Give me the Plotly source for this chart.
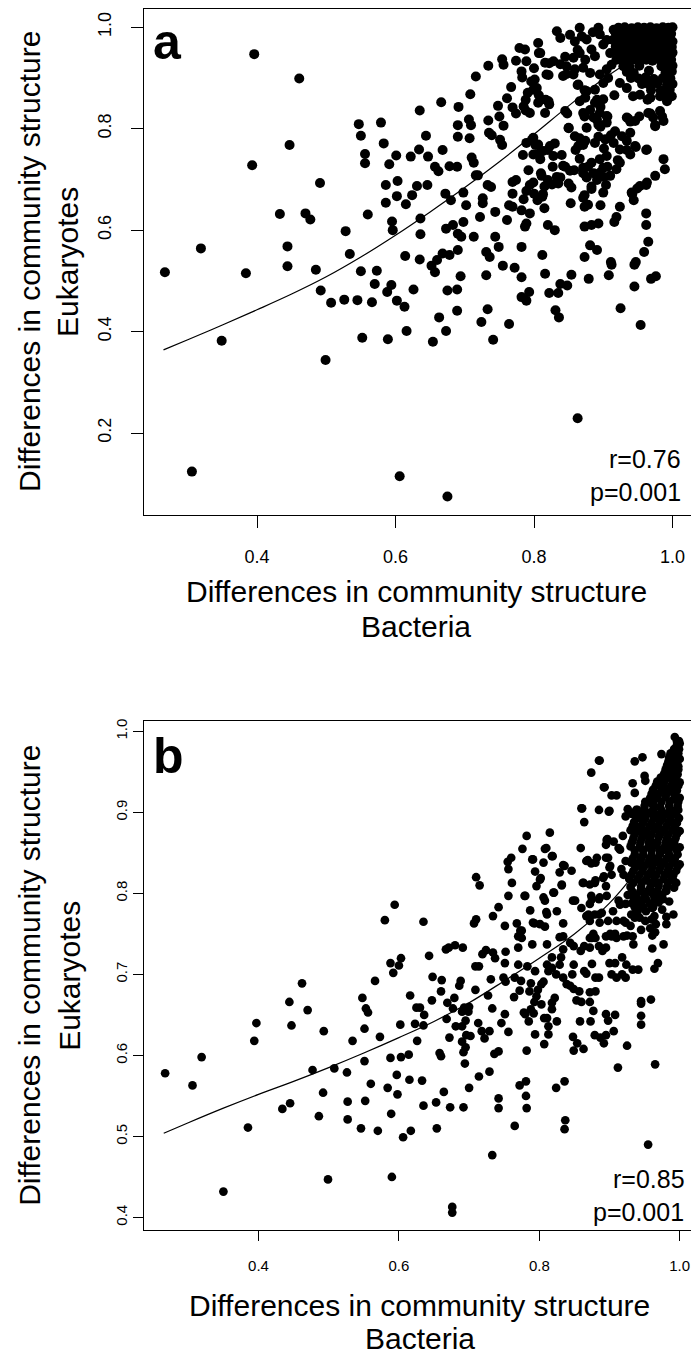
import plotly.graph_objects as go

FONT = "Liberation Sans, Arial, Helvetica, sans-serif"

# ---------------- Panel a : (Bacteria dissimilarity, Eukaryote dissimilarity) ----------------
a_low = [(0.267,0.517),(0.384,0.515),(0.444,0.529),(0.485,0.522),(0.492,0.481),(0.507,0.457),(0.526,0.463),
    (0.545,0.462),(0.566,0.458),(0.550,0.519),(0.573,0.520),(0.570,0.494),(0.588,0.478),(0.594,0.492),(0.602,0.461),
    (0.613,0.449),(0.626,0.483),(0.652,0.530),(0.657,0.517),(0.675,0.481),(0.689,0.483),(0.694,0.509),(0.689,0.441),
    (0.663,0.428),(0.673,0.401),(0.654,0.380),(0.552,0.388),(0.589,0.385),(0.616,0.401),(0.499,0.344),(0.349,0.382),
    (0.306,0.124),(0.606,0.115),(0.675,0.075),(0.863,0.229),(0.731,0.511),(0.755,0.530),(0.772,0.526),(0.782,0.507),
    (0.782,0.468),(0.789,0.461),(0.793,0.478),(0.733,0.444),(0.724,0.419),(0.741,0.384),(0.764,0.415),(0.816,0.514),
    (0.822,0.476),(0.835,0.476),(0.838,0.494),(0.848,0.491),(0.854,0.512),(0.831,0.442),(0.836,0.428),(0.879,0.504),
    (0.912,0.532),(0.908,0.511),(0.925,0.446),(0.945,0.532),(0.945,0.489),(0.954,0.413),(0.969,0.504),(0.976,0.509)]

a_upper_left = [(0.396,0.947),(0.461,0.899),(0.447,0.768),(0.393,0.728),(0.491,0.693),(0.433,0.632),(0.470,0.633),
    (0.477,0.621),(0.319,0.564),(0.444,0.568),(0.528,0.598),(0.534,0.553),(0.560,0.631),(0.547,0.809),(0.550,0.786),
    (0.579,0.812),(0.583,0.771),(0.556,0.750),(0.556,0.732),(0.601,0.747),(0.591,0.730),(0.603,0.697),(0.586,0.689),
    (0.602,0.667),(0.586,0.654),(0.615,0.651),(0.624,0.669),(0.631,0.687),(0.646,0.689),(0.622,0.745),(0.634,0.759),
    (0.647,0.745),(0.644,0.786),(0.635,0.836),(0.666,0.852),(0.691,0.843),(0.708,0.868),(0.716,0.903),(0.734,0.924),
    (0.754,0.937),(0.756,0.926),(0.774,0.934),(0.668,0.758),(0.657,0.725),(0.662,0.716),(0.678,0.726),(0.689,0.725),
    (0.690,0.807),(0.690,0.784),(0.706,0.818),(0.709,0.807),(0.707,0.781),(0.710,0.743),(0.713,0.733),(0.716,0.708),
    (0.719,0.708),(0.672,0.672),(0.680,0.659),(0.698,0.674),(0.702,0.649),(0.722,0.626),(0.726,0.653),(0.726,0.663),
    (0.733,0.689),(0.738,0.685),(0.734,0.816),(0.735,0.792),(0.739,0.787),(0.748,0.845),(0.750,0.824),(0.751,0.778),
    (0.754,0.768),(0.756,0.806),(0.761,0.860),(0.767,0.882),(0.769,0.842),(0.774,0.830),(0.769,0.695),(0.774,0.699),
    (0.769,0.672),(0.764,0.649),(0.769,0.646),(0.744,0.636),(0.744,0.587),(0.749,0.567),(0.761,0.620),(0.683,0.610),
    (0.690,0.593),(0.698,0.616),(0.673,0.603),(0.695,0.587),(0.713,0.587),(0.731,0.557),(0.736,0.547),(0.690,0.561),
    (0.678,0.551),(0.668,0.554),(0.660,0.541),(0.636,0.623),(0.636,0.592),(0.595,0.617),(0.596,0.600),(0.614,0.549),
    (0.635,0.542)]

a_upper_mid = [(0.782,0.639),(0.794,0.633),(0.789,0.613),(0.815,0.643),(0.820,0.610),(0.830,0.600),(0.853,0.653),
    (0.873,0.646),(0.878,0.650),(0.896,0.649),(0.873,0.607),(0.883,0.610),(0.893,0.613),(0.919,0.626),(0.924,0.646),
    (0.916,0.616),(0.962,0.633),(0.962,0.610),(0.965,0.577),(0.959,0.557),(0.881,0.570),(0.891,0.561),(0.873,0.547),
    (0.911,0.537),(0.947,0.537),(0.782,0.567),(0.787,0.607),(0.812,0.551)]

a_upper_right = [(0.833,0.992),(0.838,0.979),(0.866,0.999),(0.869,0.982),(0.893,0.999),(0.895,0.986),(0.915,0.995),
    (0.859,0.972),(0.876,0.976),(0.883,0.956),(0.900,0.966),(0.866,0.949),(0.857,0.940),(0.874,0.936),(0.888,0.943),
    (0.910,0.949),(0.919,0.936),(0.787,0.956),(0.806,0.969),(0.809,0.949),(0.789,0.933),(0.816,0.930),(0.828,0.933),
    (0.838,0.927),(0.847,0.923),(0.859,0.917),(0.871,0.920),(0.881,0.910),(0.895,0.907),(0.905,0.917),(0.912,0.926),
    (0.782,0.913),(0.801,0.897),(0.799,0.877),(0.818,0.907),(0.842,0.904),(0.857,0.907),(0.864,0.887),(0.876,0.874),
    (0.888,0.877),(0.900,0.890),(0.907,0.900),(0.924,0.890),(0.934,0.880),(0.943,0.864),(0.953,0.867),(0.968,0.861),
    (0.982,0.864),(0.992,0.854),(0.785,0.844),(0.806,0.851),(0.821,0.854),(0.816,0.831),(0.794,0.831),(0.866,0.854),
    (0.874,0.861),(0.888,0.851),(0.900,0.858),(0.845,0.835),(0.871,0.831),(0.886,0.822),(0.895,0.831),(0.905,0.825),
    (0.934,0.822),(0.946,0.815),(0.965,0.831),(0.972,0.822),(0.982,0.835),(0.987,0.815),(0.975,0.805),(0.850,0.802),
    (0.876,0.802),(0.893,0.808),(0.905,0.812),(0.917,0.795),(0.939,0.792),(0.927,0.785),(0.789,0.772),(0.799,0.782),
    (0.806,0.769),(0.799,0.749),(0.813,0.756),(0.823,0.766),(0.828,0.746),(0.809,0.740),(0.859,0.785),(0.864,0.766),
    (0.874,0.776),(0.888,0.772),(0.903,0.779),(0.915,0.772),(0.924,0.759),(0.934,0.776),(0.946,0.766),(0.963,0.759),
    (0.842,0.727),(0.852,0.717),(0.871,0.723),(0.883,0.733),(0.895,0.740),(0.905,0.746),(0.900,0.723),(0.924,0.733),
    (0.919,0.720),(0.939,0.749),(0.987,0.740),(0.989,0.720),(0.975,0.707),(0.963,0.694),(0.953,0.687),(0.941,0.674),
    (0.811,0.707),(0.826,0.690),(0.838,0.704),(0.854,0.684),(0.876,0.704),(0.895,0.713),(0.910,0.707),(0.883,0.681),
    (0.900,0.674),(0.871,0.664),(0.799,0.694),(0.789,0.677),(0.813,0.671),(0.785,0.661)]

# second reading of the same crowded area (x >= 0.78, y >= 0.65)
a_upper_right_2 = [(0.848,0.830),(0.850,0.801),(0.863,0.886),(0.873,0.876),(0.866,0.781),(0.871,0.768),(0.860,0.758),
    (0.866,0.741),(0.873,0.824),(0.881,0.837),(0.891,0.857),(0.896,0.843),(0.891,0.817),(0.906,0.824),(0.896,0.804),
    (0.893,0.784),(0.901,0.761),(0.911,0.787),(0.916,0.866),(0.936,0.820),(0.939,0.814),(0.952,0.824),(0.964,0.857),
    (0.968,0.830),(0.975,0.807),(0.985,0.824),(0.962,0.758),(0.947,0.764),(0.934,0.758),(0.921,0.738),(0.906,0.725),
    (0.886,0.712),(0.891,0.699),(0.876,0.705),(0.858,0.718),(0.845,0.725),(0.840,0.748),(0.830,0.771),(0.820,0.758),
    (0.807,0.751),(0.802,0.768),(0.797,0.778),(0.784,0.748),(0.792,0.718),(0.810,0.712),(0.820,0.699),(0.833,0.705),
    (0.835,0.692),(0.850,0.692),(0.871,0.712),(0.878,0.725),(0.873,0.669),(0.883,0.686),(0.901,0.705),(0.904,0.689),
    (0.794,0.689),(0.800,0.672),(0.805,0.659),(0.815,0.686),(0.812,0.666),(0.942,0.672),(0.949,0.682),(0.962,0.689),
    (0.944,0.659),(0.827,0.725),(0.845,0.942),(0.847,0.908),(0.863,0.955),(0.822,0.929),(0.821,0.906),(0.817,0.857),
    (0.822,0.848),(0.783,0.901),(0.788,0.857),(0.796,0.893),(0.800,0.919),(0.804,0.880),(0.807,0.866),(0.791,0.871),
    (0.788,0.836),(0.807,0.949),(0.779,0.959),(0.934,0.995),(0.905,0.975),(0.885,0.990),(0.852,0.985)]

a_dense = [(0.922,0.999),(0.931,1.0),(0.941,0.998),(0.950,1.0),(0.959,0.999),(0.968,1.0),(0.977,0.998),(0.986,1.0),
    (0.994,0.999),(1.0,1.0),(0.918,0.988),(0.927,0.987),(0.936,0.989),(0.945,0.986),(0.954,0.988),(0.963,0.987),
    (0.972,0.989),(0.981,0.986),(0.990,0.988),(0.998,0.987),(0.914,0.975),(0.924,0.976),(0.933,0.974),(0.942,0.976),
    (0.951,0.975),(0.960,0.973),(0.969,0.976),(0.978,0.974),(0.987,0.975),(0.996,0.976),(1.0,0.972),(0.918,0.962),
    (0.928,0.961),(0.937,0.963),(0.946,0.960),(0.955,0.962),(0.964,0.961),(0.973,0.963),(0.982,0.960),(0.991,0.962),
    (0.999,0.961),(0.922,0.949),(0.931,0.948),(0.940,0.950),(0.949,0.947),(0.958,0.949),(0.967,0.948),(0.976,0.950),
    (0.985,0.947),(0.994,0.949),(1.0,0.950),(0.926,0.936),(0.935,0.934),(0.944,0.937),(0.953,0.935),(0.962,0.936),
    (0.971,0.934),(0.980,0.937),(0.989,0.935),(0.998,0.936),(0.929,0.923),(0.938,0.922),(0.952,0.924),(0.984,0.923),
    (0.993,0.921),(1.0,0.924),(0.934,0.912),(0.944,0.910),(0.966,0.914),(0.990,0.911),(0.999,0.913),(0.940,0.900),
    (0.951,0.899),(0.961,0.901),(0.973,0.898),(0.986,0.900),(0.997,0.899),(0.956,0.888),(0.966,0.887),(0.978,0.889),
    (0.992,0.886),(1.0,0.888),(0.969,0.876),(0.983,0.875),(0.996,0.877),(0.988,0.865),(0.999,0.864)]

trend_a_x = [0.265, 0.30, 0.35, 0.40, 0.45, 0.50, 0.55, 0.60, 0.65, 0.70, 0.75, 0.80, 0.85, 0.90, 0.95, 1.00]
trend_a_y = [0.364, 0.384, 0.413, 0.443, 0.474, 0.508, 0.547, 0.590, 0.636, 0.684, 0.735, 0.789, 0.845, 0.898, 0.942, 0.975]

# ---------------- Panel b ----------------
b_low = [(0.267,0.578),(0.306,0.563),(0.319,0.598),(0.385,0.511),(0.394,0.618),(0.397,0.640),(0.434,0.534),
    (0.445,0.541),(0.444,0.666),(0.447,0.637),(0.462,0.689),(0.470,0.656),(0.477,0.582),(0.486,0.525),(0.492,0.554),
    (0.493,0.630),(0.508,0.584),(0.499,0.447),(0.526,0.579),(0.527,0.543),(0.527,0.521),(0.534,0.618),(0.546,0.510),
    (0.548,0.671),(0.551,0.633),(0.551,0.593),(0.553,0.658),(0.556,0.653),(0.552,0.544),(0.560,0.565),(0.566,0.692),
    (0.570,0.507),(0.573,0.623),(0.584,0.560),(0.588,0.714),(0.592,0.702),(0.600,0.711),(0.603,0.720),(0.588,0.597),
    (0.589,0.528),(0.590,0.450),(0.597,0.576),(0.598,0.552),(0.602,0.638),(0.603,0.598),(0.606,0.499),(0.617,0.507),
    (0.614,0.601),(0.615,0.570),(0.616,0.674),(0.623,0.639),(0.625,0.659),(0.630,0.659),(0.636,0.650),(0.626,0.618),
    (0.633,0.569),(0.635,0.637),(0.635,0.538),(0.643,0.723),(0.647,0.668),(0.648,0.697),(0.653,0.542),(0.654,0.510),
    (0.658,0.603),(0.660,0.599),(0.660,0.679),(0.661,0.693),(0.664,0.555),(0.667,0.731),(0.671,0.733),(0.680,0.736),
    (0.691,0.733),(0.668,0.645),(0.669,0.665),(0.672,0.622),(0.673,0.536),(0.677,0.658),(0.679,0.671),(0.681,0.636),
    (0.690,0.636),(0.686,0.686),(0.688,0.692),(0.690,0.654),(0.693,0.659),(0.699,0.654),(0.700,0.660),(0.690,0.617),
    (0.692,0.604),(0.695,0.610),(0.694,0.590),(0.692,0.536),(0.696,0.625),(0.702,0.624),(0.695,0.643),(0.700,0.560),
    (0.709,0.681),(0.709,0.710),(0.714,0.710),(0.714,0.574),(0.713,0.640),(0.719,0.725),(0.724,0.730),(0.734,0.727),
    (0.737,0.720),(0.718,0.630),(0.722,0.621),(0.729,0.630),(0.727,0.674),(0.731,0.694),(0.729,0.580),(0.733,0.658),
    (0.733,0.477),(0.736,0.602),(0.742,0.605),(0.742,0.547),(0.742,0.535),(0.746,0.640),(0.749,0.696),(0.752,0.691),
    (0.751,0.651),(0.751,0.714),(0.752,0.728),(0.756,0.629),(0.764,0.672),(0.765,0.696),(0.765,0.513),(0.770,0.712),
    (0.770,0.733),(0.770,0.747),(0.775,0.745),(0.772,0.680),(0.774,0.692),(0.772,0.563),(0.778,0.653),(0.780,0.651),
    (0.781,0.568),(0.781,0.550),(0.782,0.535),(0.782,0.606),(0.783,0.710),(0.785,0.642),(0.788,0.689),(0.786,0.679),
    (0.788,0.657),(0.792,0.652),(0.790,0.737),(0.793,0.666),(0.796,0.673),(0.794,0.626),(0.794,0.704),(0.798,0.681),
    (0.803,0.688),(0.806,0.691),(0.803,0.663),(0.807,0.646),(0.811,0.646),(0.813,0.636),(0.813,0.626),(0.818,0.657),
    (0.818,0.665),(0.822,0.671),(0.807,0.614),(0.811,0.737),(0.811,0.712),(0.813,0.704),(0.818,0.708),(0.818,0.721),
    (0.824,0.700),(0.829,0.712),(0.831,0.721),(0.834,0.731),(0.825,0.642),(0.829,0.746),(0.834,0.747),(0.824,0.560),
    (0.836,0.568),(0.837,0.520),(0.836,0.509),(0.834,0.696),(0.839,0.688),(0.844,0.686),(0.849,0.682),(0.857,0.679),
    (0.844,0.739),(0.849,0.735),(0.859,0.729),(0.864,0.735),(0.849,0.712),(0.847,0.700),(0.848,0.623),(0.849,0.606),
    (0.854,0.615),(0.863,0.608),(0.853,0.668),(0.860,0.666),(0.872,0.666),(0.858,0.642),(0.873,0.642),(0.877,0.655),
    (0.864,0.704),(0.867,0.701),(0.872,0.745),(0.875,0.745),(0.880,0.745),(0.872,0.733),(0.872,0.678),(0.880,0.679),
    (0.875,0.713),(0.880,0.696),(0.885,0.735),(0.890,0.729),(0.895,0.733),(0.885,0.696),(0.879,0.625),(0.887,0.622),
    (0.892,0.615),(0.895,0.625),(0.895,0.651),(0.898,0.643),(0.908,0.650),(0.900,0.714),(0.908,0.714),(0.903,0.700),
    (0.910,0.696),(0.918,0.700),(0.923,0.696),(0.918,0.721),(0.924,0.712),(0.895,0.747),(0.903,0.747),(0.910,0.745),
    (0.920,0.747),(0.933,0.747),(0.906,0.630),(0.912,0.585),(0.925,0.612),(0.933,0.706),(0.941,0.706),(0.934,0.737),
    (0.945,0.667),(0.945,0.664),(0.945,0.649),(0.945,0.638),(0.955,0.490),(0.959,0.669),(0.961,0.748),(0.961,0.732),
    (0.964,0.707),(0.969,0.714),(0.965,0.589),(0.977,0.737),(0.350,0.432),(0.676,0.413),(0.676,0.406)]

b_top_left = [(0.580,0.767),(0.594,0.786),(0.635,0.765),(0.710,0.820),(0.715,0.810),(0.707,0.763),(0.710,0.768),
    (0.734,0.772),(0.742,0.783),(0.751,0.760),(0.755,0.839),(0.760,0.844),(0.756,0.830),(0.761,0.813),(0.756,0.797),
    (0.768,0.763),(0.773,0.754)]

b_top_right = [(0.886,0.964),(0.874,0.949),(0.936,0.963),(0.947,0.968),(0.974,0.972),(0.893,0.931),(0.903,0.921),
    (0.910,0.921),(0.860,0.905),(0.885,0.903),(0.900,0.902),(0.864,0.888),(0.782,0.871),(0.815,0.875),(0.859,0.856),
    (0.776,0.855),(0.810,0.856),(0.819,0.846),(0.791,0.842),(0.806,0.838),(0.869,0.841),(0.874,0.837),(0.882,0.844),
    (0.896,0.866),(0.906,0.864),(0.915,0.854),(0.898,0.844),(0.901,0.834),(0.834,0.835),(0.846,0.828),(0.829,0.826),
    (0.794,0.827),(0.801,0.817),(0.796,0.809),(0.863,0.813),(0.872,0.811),(0.879,0.813),(0.891,0.819),(0.903,0.823),
    (0.917,0.830),(0.832,0.811),(0.820,0.801),(0.780,0.797),(0.806,0.795),(0.808,0.791),(0.848,0.791),(0.875,0.793),
    (0.886,0.795),(0.896,0.797),(0.872,0.787),(0.787,0.779),(0.810,0.777),(0.825,0.778),(0.860,0.782),(0.870,0.774),
    (0.879,0.774),(0.889,0.776),(0.905,0.778),(0.915,0.786),(0.791,0.764),(0.801,0.762),(0.808,0.759),(0.775,0.754),
    (0.834,0.763),(0.872,0.766),(0.886,0.764),(0.898,0.766),(0.910,0.766),(0.920,0.766),(0.901,0.750),(0.965,0.752),
    (0.943,0.770),(0.960,0.768),(0.981,0.762),(0.991,0.774),(0.933,0.936),(0.936,0.924),(0.950,0.945),(0.951,0.939),
    (0.923,0.895),(0.926,0.904),(0.999,0.988),(0.997,0.977),(0.923,0.764),(0.936,0.770),(0.951,0.766),(0.964,0.772),
    (0.966,0.762),(0.981,0.771),(0.961,0.782),(0.971,0.795),(0.981,0.803),(0.992,0.807)]

# second reading of the same crowded area (x >= 0.77, y >= 0.75)
b_top_right_2 = [(0.836,0.834),(0.832,0.810),(0.851,0.791),(0.861,0.905),(0.885,0.964),(0.899,0.901),(0.892,0.931),
    (0.862,0.813),(0.880,0.816),(0.867,0.840),(0.880,0.838),(0.895,0.860),(0.897,0.867),(0.895,0.844),(0.900,0.832),
    (0.874,0.797),(0.885,0.793),(0.867,0.772),(0.885,0.774),(0.892,0.821),(0.895,0.809),(0.913,0.856),(0.919,0.871),
    (0.920,0.823),(0.923,0.840),(0.779,0.797),(0.790,0.842),(0.802,0.819),(0.793,0.763),(0.808,0.855),(0.818,0.846),
    (0.811,0.774),(0.821,0.801),(0.913,0.791),(0.908,0.750),(0.925,0.748),(0.877,0.750),(0.931,0.774),(0.941,0.791),
    (0.951,0.793),(0.923,0.787),(0.930,0.760),(0.945,0.755),(0.958,0.757),(0.975,0.780),(0.985,0.790)]

b_dense = [(0.996,0.988),(1.0,0.985),(0.992,0.978),(0.999,0.978),(0.985,0.968),(0.995,0.968),(1.0,0.966),
    (0.982,0.958),(0.990,0.958),(0.998,0.957),(0.978,0.948),(0.988,0.948),(0.997,0.947),(0.968,0.938),(0.978,0.938),
    (0.990,0.938),(1.0,0.937),(0.962,0.928),(0.975,0.928),(0.985,0.929),(0.996,0.927),(0.958,0.918),(0.968,0.918),
    (0.980,0.919),(0.992,0.917),(1.0,0.918),(0.950,0.908),(0.962,0.909),(0.972,0.907),(0.985,0.908),(0.997,0.908),
    (0.932,0.898),(0.945,0.898),(0.956,0.899),(0.968,0.897),(0.980,0.898),(0.992,0.898),(0.935,0.888),(0.948,0.888),
    (0.960,0.887),(0.972,0.889),(0.984,0.888),(0.996,0.887),(0.930,0.878),(0.942,0.878),(0.953,0.877),(0.965,0.879),
    (0.977,0.878),(0.990,0.878),(1.0,0.877),(0.934,0.868),(0.946,0.868),(0.958,0.867),(0.970,0.869),(0.982,0.868),
    (0.994,0.868),(0.930,0.858),(0.943,0.858),(0.955,0.857),(0.967,0.859),(0.979,0.858),(0.990,0.858),(1.0,0.857),
    (0.936,0.848),(0.948,0.848),(0.960,0.847),(0.972,0.849),(0.985,0.848),(0.997,0.848),(0.931,0.838),(0.942,0.838),
    (0.955,0.837),(0.966,0.839),(0.978,0.838),(0.990,0.838),(1.0,0.836),(0.934,0.828),(0.947,0.828),(0.959,0.827),
    (0.971,0.829),(0.983,0.828),(0.995,0.828),(0.928,0.818),(0.940,0.818),(0.952,0.817),(0.964,0.819),(0.977,0.818),
    (0.990,0.818),(0.930,0.808),(0.945,0.808),(0.958,0.807),(0.970,0.809),(0.982,0.808),(0.926,0.798),(0.938,0.798),
    (0.950,0.797),(0.962,0.799),(0.975,0.798),(0.932,0.788),(0.945,0.788),(0.958,0.787),(0.970,0.789),(0.940,0.778),
    (0.952,0.778),(0.993,0.993),(0.987,0.973),(0.983,0.952),(0.972,0.933),(0.966,0.923),(0.955,0.913),(0.940,0.903),
    (0.938,0.883),(0.949,0.872),(0.961,0.862),(0.975,0.853),(0.988,0.843),(0.946,0.833),(0.965,0.813),(0.985,0.823),
    (0.935,0.793),(0.955,0.803),(0.990,0.863),(0.995,0.903),(0.975,0.893)]

# in-between positions of the solid black mass of panel b
b_dense_2 = [(0.996,0.983),(0.990,0.973),(0.998,0.973),(0.984,0.963),(0.993,0.963),(0.980,0.953),(0.989,0.953),
    (0.998,0.953),(0.973,0.943),(0.983,0.943),(0.994,0.943),(0.966,0.933),(0.977,0.933),(0.988,0.933),(0.998,0.933),
    (0.960,0.923),(0.970,0.923),(0.981,0.923),(0.992,0.923),(0.951,0.913),(0.962,0.913),(0.974,0.913),(0.986,0.913),
    (0.998,0.913),(0.938,0.903),(0.950,0.903),(0.962,0.903),(0.974,0.903),(0.986,0.903),(0.998,0.903),(0.939,0.893),
    (0.951,0.893),(0.963,0.893),(0.975,0.893),(0.987,0.893),(0.999,0.893),(0.933,0.883),(0.945,0.883),(0.957,0.883),
    (0.969,0.883),(0.981,0.883),(0.993,0.883),(0.936,0.873),(0.948,0.873),(0.960,0.873),(0.972,0.873),(0.984,0.873),
    (0.996,0.873),(0.932,0.863),(0.944,0.863),(0.956,0.863),(0.968,0.863),(0.980,0.863),(0.992,0.863),(0.936,0.853),
    (0.948,0.853),(0.960,0.853),(0.972,0.853),(0.984,0.853),(0.996,0.853),(0.933,0.843),(0.945,0.843),(0.957,0.843),
    (0.969,0.843),(0.981,0.843),(0.993,0.843),(0.937,0.833),(0.949,0.833),(0.961,0.833),(0.973,0.833),(0.985,0.833),
    (0.997,0.833),(0.931,0.823),(0.943,0.823),(0.955,0.823),(0.967,0.823),(0.979,0.823),(0.991,0.823),(0.934,0.813),
    (0.946,0.813),(0.958,0.813),(0.970,0.813),(0.983,0.813),(0.995,0.813),(0.932,0.803),(0.944,0.803),(0.956,0.803),
    (0.968,0.803),(0.980,0.803),(0.940,0.793),(0.952,0.793),(0.964,0.793),(0.976,0.793),(0.936,0.783),(0.948,0.783),
    (0.962,0.783)]

trend_b_x = [0.265, 0.30, 0.35, 0.40, 0.45, 0.50, 0.55, 0.60, 0.65, 0.70, 0.75, 0.80, 0.85, 0.90, 0.95, 1.00]
trend_b_y = [0.504, 0.517, 0.535, 0.552, 0.568, 0.585, 0.603, 0.622, 0.642, 0.665, 0.692, 0.720, 0.750, 0.788, 0.840, 0.900]


def unzip(*groups):
    xs, ys = [], []
    for g in groups:
        for x, y in g:
            xs.append(x)
            ys.append(y)
    return xs, ys


bact_a, euk_a = unzip(a_low, a_upper_left, a_upper_mid, a_upper_right, a_upper_right_2, a_dense)
bact_b, euk_b = unzip(b_low, b_top_left, b_top_right, b_top_right_2, b_dense, b_dense_2)

W, H = 691, 1357


def px(x):
    return x / W


def py(y):
    return 1 - y / H


fig = go.Figure()
fig.add_trace(go.Scatter(x=bact_a, y=euk_a, mode="markers", xaxis="x", yaxis="y",
                         marker=dict(color="black", size=10, line=dict(width=0))))
fig.add_trace(go.Scatter(x=trend_a_x, y=trend_a_y, mode="lines", xaxis="x", yaxis="y",
                         line=dict(color="black", width=1.2, shape="spline", smoothing=1.0)))
fig.add_trace(go.Scatter(x=bact_b, y=euk_b, mode="markers", xaxis="x2", yaxis="y2",
                         marker=dict(color="black", size=8.7, line=dict(width=0))))
fig.add_trace(go.Scatter(x=trend_b_x, y=trend_b_y, mode="lines", xaxis="x2", yaxis="y2",
                         line=dict(color="black", width=1.2, shape="spline", smoothing=1.0)))

common = dict(showgrid=False, zeroline=False, showline=True, linecolor="black", linewidth=1,
              ticks="outside", tickwidth=1, tickcolor="black")

fig.update_layout(
    width=W, height=H, margin=dict(l=0, r=0, t=0, b=0),
    paper_bgcolor="white", plot_bgcolor="white", showlegend=False,
    xaxis=dict(common, domain=[px(143.5), 1.0], range=[0.2361, 1.0267], anchor="y", mirror=True,
               tickvals=[0.4, 0.6, 0.8, 1.0], ticktext=["0.4", "0.6", "0.8", "1.0"], ticklen=12,
               ticklabelstandoff=14, tickfont=dict(family=FONT, size=18, color="black")),
    yaxis=dict(common, domain=[py(513), py(6)], range=[0.0387, 1.036], anchor="x",
               tickvals=[0.2, 0.4, 0.6, 0.8, 1.0], ticktext=["0.2", "0.4", "0.6", "0.8", "1.0"],
               tickangle=-90, ticklen=12, ticklabelstandoff=12,
               tickfont=dict(family=FONT, size=18, color="black")),
    xaxis2=dict(common, domain=[px(144), 1.0], range=[0.2369, 1.0161], anchor="y2", mirror=True,
                tickvals=[0.4, 0.6, 0.8, 1.0], ticktext=["0.4", "0.6", "0.8", "1.0"], ticklen=10,
                ticklabelstandoff=12, tickfont=dict(family=FONT, size=15, color="black")),
    yaxis2=dict(common, domain=[py(1230), py(720)], range=[0.3842, 1.0123], anchor="x2",
                tickvals=[0.4, 0.5, 0.6, 0.7, 0.8, 0.9, 1.0],
                ticktext=["0.4", "0.5", "0.6", "0.7", "0.8", "0.9", "1.0"],
                tickangle=-90, ticklen=10, ticklabelstandoff=0,
                tickfont=dict(family=FONT, size=15, color="black")),
)


def ann(text, x, y, size, xanchor="center", angle=0, bold=False):
    t = f"<b>{text}</b>" if bold else text
    return dict(text=t, x=px(x), y=py(y), xref="paper", yref="paper", showarrow=False,
                xanchor=xanchor, yanchor="middle", textangle=angle,
                font=dict(family=FONT, size=size, color="black"))


TITLE = 30
fig.update_layout(annotations=[
    ann("a", 167, 39, 50, bold=True),
    ann("b", 168, 755, 50, bold=True),
    ann("r=0.76", 683, 457, 25, xanchor="right"),
    ann("p=0.001", 683, 490, 25, xanchor="right"),
    ann("r=0.85", 687, 1179, 25, xanchor="right"),
    ann("p=0.001", 686, 1212, 25, xanchor="right"),
    ann("Differences in community structure", 416, 590, TITLE),
    ann("Bacteria", 416, 625, TITLE),
    ann("Differences in community structure", 419, 1305, TITLE),
    ann("Bacteria", 420, 1338, TITLE),
    ann("Differences in community structure", 30, 259.5, TITLE, angle=-90),
    ann("Eukaryotes", 68, 259.5, TITLE, angle=-90),
    ann("Differences in community structure", 30, 975, TITLE, angle=-90),
    ann("Eukaryotes", 70, 975, TITLE, angle=-90),
])

fig.write_html("out.html")
